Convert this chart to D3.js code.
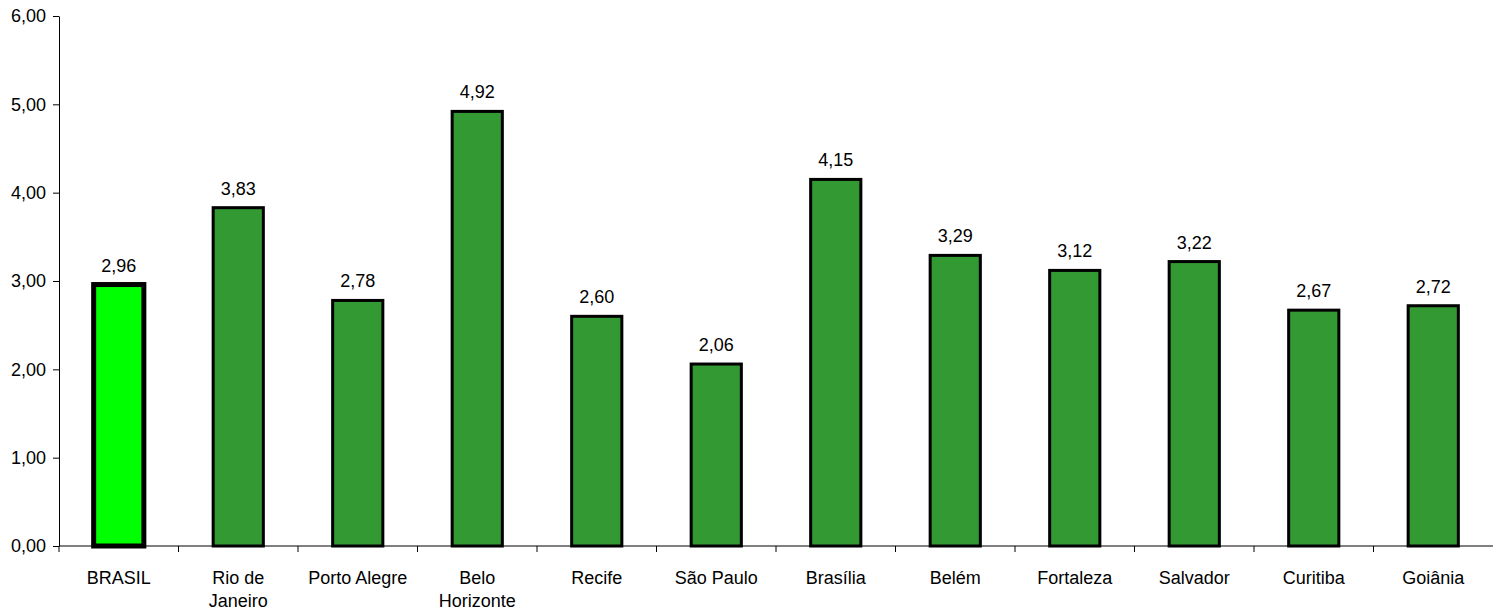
<!DOCTYPE html>
<html>
<head>
<meta charset="utf-8">
<script src="https://cdn.jsdelivr.net/npm/d3@7"></script>
<style>
  body { margin: 0; background: #fff; }
  text { font-family: "Liberation Sans", Arial, sans-serif; fill: #000; }
</style>
</head>
<body>
<div id="chart"></div>
<script>
var width = 1493;
var height = 614;

// data
var cities = ['BRASIL', 'Rio de Janeiro', 'Porto Alegre', 'Belo Horizonte', 'Recife', 'São Paulo',
  'Brasília', 'Belém', 'Fortaleza', 'Salvador', 'Curitiba', 'Goiânia'];
var values = [2.96, 3.83, 2.78, 4.92, 2.60, 2.06, 4.15, 3.29, 3.12, 3.22, 2.67, 2.72];
var yTicks = [0, 1, 2, 3, 4, 5, 6];
// how the long names are broken in the axis labels
var labelLines = {
  'Rio de Janeiro': ['Rio de', 'Janeiro'],
  'Belo Horizonte': ['Belo', 'Horizonte']
};

var plotLeft = 59, plotRight = 1493, plotTop = 16, plotBottom = 546;
var fontSize = '18px';

var svg = d3.select('#chart').append('svg').attr('width', width).attr('height', height);

var x = d3.scaleBand().domain(cities).range([plotLeft, plotRight]).paddingInner(0.58).paddingOuter(0.29);
var y = d3.scaleLinear().domain([0, 6]).range([plotBottom, plotTop]);

var fmt = function(v) { return d3.format('.2f')(v).replace('.', ','); };

// y axis
var yAxis = svg.append('g').attr('transform', 'translate(' + plotLeft + ',0)')
  .call(d3.axisLeft(y).tickValues(yTicks).tickFormat(fmt).tickSize(6).tickSizeOuter(0).tickPadding(7));
yAxis.select('.domain').attr('stroke', '#000');
yAxis.selectAll('line').attr('stroke', '#000');
yAxis.selectAll('text').style('font-size', fontSize).style('font-family', '"Liberation Sans", Arial, sans-serif');

// bars
svg.selectAll('rect.bar').data(cities).enter().append('rect')
  .attr('class', 'bar')
  .attr('x', function(d) { return x(d); })
  .attr('width', x.bandwidth())
  .attr('y', function(d, i) { return y(values[i]); })
  .attr('height', function(d, i) { return y(0) - y(values[i]); })
  .attr('fill', function(d, i) { return i === 0 ? '#00ff00' : '#339933'; })
  .attr('stroke', '#000')
  .attr('stroke-width', function(d, i) { return i === 0 ? 5 : 3; });

// value labels
svg.selectAll('text.val').data(cities).enter().append('text')
  .attr('class', 'val')
  .attr('x', function(d) { return x(d) + x.bandwidth() / 2; })
  .attr('y', function(d, i) { return y(values[i]) - 13; })
  .attr('text-anchor', 'middle')
  .style('font-size', fontSize)
  .text(function(d, i) { return fmt(values[i]); });

// x axis line and tick marks at category boundaries
var step = x.step();
svg.append('line').attr('x1', plotLeft).attr('x2', plotRight).attr('y1', plotBottom).attr('y2', plotBottom).attr('stroke', '#000');
svg.selectAll('line.xtick').data(d3.range(cities.length)).enter().append('line')
  .attr('class', 'xtick')
  .attr('x1', function(i) { return plotLeft + i * step; })
  .attr('x2', function(i) { return plotLeft + i * step; })
  .attr('y1', plotBottom).attr('y2', plotBottom + 6)
  .attr('stroke', '#000');

// category labels
var cat = svg.selectAll('text.cat').data(cities).enter().append('text')
  .attr('class', 'cat')
  .attr('x', function(d) { return x(d) + x.bandwidth() / 2; })
  .attr('y', 584)
  .attr('text-anchor', 'middle')
  .style('font-size', fontSize);
cat.each(function(d) {
  var lines = labelLines[d] || [d];
  var t = d3.select(this);
  lines.forEach(function(l, k) {
    t.append('tspan').attr('x', t.attr('x')).attr('dy', k === 0 ? 0 : 23).text(l);
  });
});
</script>
</body>
</html>
